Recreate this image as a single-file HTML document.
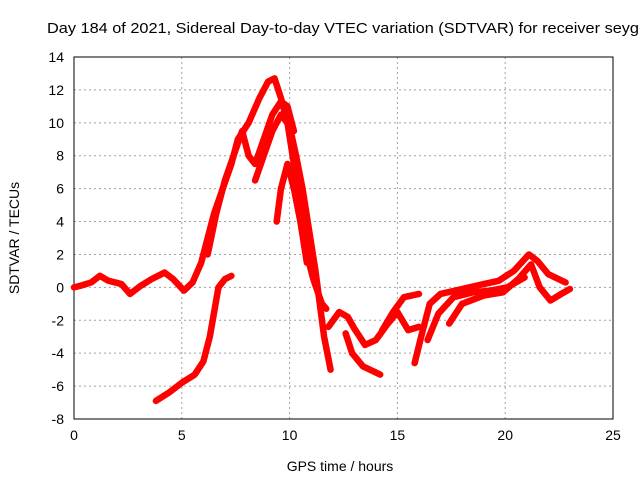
<!DOCTYPE html>
<html><head><meta charset="utf-8"><style>
body{margin:0;background:#fff}
svg{display:block;font-family:"Liberation Sans",sans-serif;font-size:14px}
</style></head><body>
<svg id="chart" width="640" height="480" viewBox="0 0 640 480">
<text x="47" y="33" font-size="15" textLength="592" lengthAdjust="spacingAndGlyphs">Day 184 of 2021, Sidereal Day-to-day VTEC variation (SDTVAR) for receiver seyg</text>
<g id="grid"></g>
<g id="axes"></g>
<g id="series"></g>
<text x="340" y="471" text-anchor="middle">GPS time / hours</text>
<text transform="translate(19,238) rotate(-90)" text-anchor="middle">SDTVAR / TECUs</text>
</svg>
<script>
const xTicks=[0,5,10,15,20,25];
const yTicks=[-8,-6,-4,-2,0,2,4,6,8,10,12,14];
const trackA=[[0,0],[0.3,0.1],[0.8,0.3],[1.2,0.7],[1.6,0.4],[2.2,0.2],[2.6,-0.4],[3.1,0.1],[3.6,0.5],[4.2,0.9],[4.6,0.5],[5.1,-0.2],[5.5,0.3],[5.9,1.5],[6.2,3],[6.5,4.5],[6.9,6],[7.3,7.5],[7.6,9],[8.1,10],[8.6,11.5],[9,12.5],[9.3,12.7],[9.6,11.5],[9.9,10],[10.2,7.5],[10.5,4.5],[10.8,2],[11.1,0.5],[11.5,-1],[11.7,-1.3]];
const trackB=[[3.8,-6.9],[4.4,-6.4],[5,-5.8],[5.6,-5.3],[6,-4.5],[6.3,-3],[6.5,-1.5],[6.7,0],[7,0.5],[7.3,0.7]];
const trackC=[[6.2,2],[6.6,4.5],[7,6.5],[7.4,8],[7.8,9.5],[8.1,8],[8.4,7.5],[8.8,9],[9.2,10.5],[9.6,11.3],[9.9,11],[10.2,9.5]];
const trackD=[[8.4,6.5],[8.8,8],[9.2,9.5],[9.6,10.5],[10,9.8],[10.3,8],[10.6,6],[10.9,3.5],[11.2,1],[11.4,-1],[11.6,-3],[11.9,-5]];
const trackE=[[9.4,4],[9.6,6],[9.9,7.5],[10.2,6],[10.5,4],[10.8,1.5]];
const trackF=[[11.8,-2.4],[12.3,-1.5],[12.7,-1.8],[13,-2.5],[13.5,-3.5],[14,-3.2],[14.5,-2.3],[15,-1.5],[15.5,-2.6],[16,-2.4]];
const trackG=[[12.6,-2.8],[12.9,-4],[13.4,-4.8],[14.2,-5.3]];
const trackH=[[14.3,-2.6],[14.8,-1.5],[15.3,-0.6],[16,-0.4]];
const trackI=[[15.8,-4.6],[16.1,-3],[16.5,-1],[17,-0.4],[18,-0.1],[19,0.2],[19.7,0.4],[20.4,1],[21.1,2],[21.5,1.6],[22,0.8],[22.8,0.3]];
const trackJ=[[16.4,-3.2],[16.9,-1.6],[17.6,-0.6],[18.5,-0.3],[19.3,-0.2],[20.1,0],[20.9,0.6]];
const trackK=[[17.4,-2.2],[18,-1],[19,-0.5],[19.9,-0.3],[20.6,0.5],[21.2,1.4],[21.6,0],[22.1,-0.8],[22.6,-0.4],[23,-0.1]];
const tracks=[trackA,trackB,trackC,trackD,trackE,trackF,trackG,trackH,trackI,trackJ,trackK];
const X0=74,X1=613,Y0=419,Y1=57;
const sx=t=>X0+(t-0)/(25-0)*(X1-X0);
const sy=v=>Y0-(v+8)/(14+8)*(Y0-Y1);
const ns="http://www.w3.org/2000/svg";
const mk=(tag,parent)=>{const e=document.createElementNS(ns,tag);parent.appendChild(e);return e;};
const grid=document.getElementById('grid'),axes=document.getElementById('axes'),ser=document.getElementById('series');
xTicks.forEach(t=>{
 const g=mk('line',grid);
 
 
 g.setAttribute('x1',sx(t));g.setAttribute('x2',sx(t));g.setAttribute('y1',Y1);g.setAttribute('y2',Y0);
 g.setAttribute('stroke','#a0a0a0');g.setAttribute('stroke-dasharray','2,3');
 const l=mk('text',axes);
 
 
 l.setAttribute('x',sx(t));l.setAttribute('y',Y0+21);l.setAttribute('text-anchor','middle');l.textContent=t;
});
yTicks.forEach(v=>{
 const g=mk('line',grid);
 
 
 g.setAttribute('x1',X0);g.setAttribute('x2',X1);g.setAttribute('y1',sy(v));g.setAttribute('y2',sy(v));
 g.setAttribute('stroke','#a0a0a0');g.setAttribute('stroke-dasharray','2,3');
 const l=mk('text',axes);
 
 
 l.setAttribute('x',X0-10);l.setAttribute('y',sy(v)+5);l.setAttribute('text-anchor','end');l.textContent=v;
});
const frame=mk('rect',axes);


frame.setAttribute('x',X0);frame.setAttribute('y',Y1);frame.setAttribute('width',X1-X0);frame.setAttribute('height',Y0-Y1);
frame.setAttribute('fill','none');frame.setAttribute('stroke','#000');
tracks.forEach(tr=>{
 const p=mk('polyline',ser);
 
 
 p.setAttribute('points',tr.map(d=>sx(d[0])+','+sy(d[1])).join(' '));
 p.setAttribute('fill','none');p.setAttribute('stroke','#ff0000');p.setAttribute('stroke-width','6.5');
 p.setAttribute('stroke-linejoin','round');p.setAttribute('stroke-linecap','round');
});
</script>
</body></html>
